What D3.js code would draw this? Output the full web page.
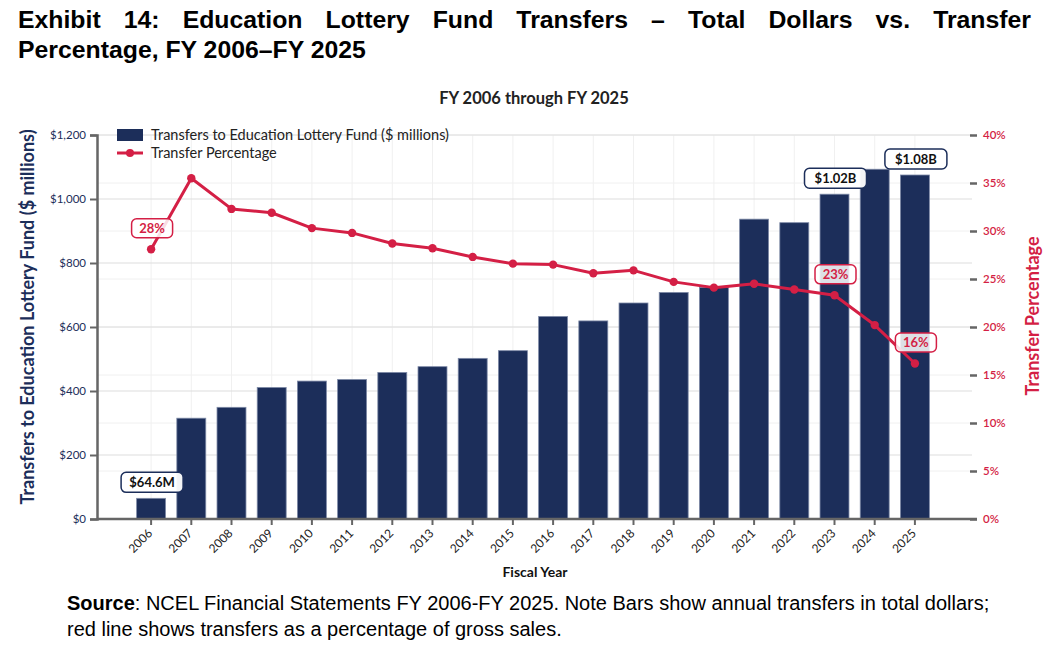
<!DOCTYPE html>
<html>
<head>
<meta charset="utf-8">
<script src="https://cdn.jsdelivr.net/npm/d3@7"></script>
<style>
  body { margin: 0; background: #fff; }
  svg text { font-family: Lato, "Open Sans", sans-serif; }
  svg text.arial { font-family: "Liberation Sans", Arial, sans-serif; }
</style>
</head>
<body>
<svg id="chart" width="1050" height="645"></svg>
<script>
// Data
const years = ["2006", "2007", "2008", "2009", "2010", "2011", "2012", "2013", "2014", "2015",
  "2016", "2017", "2018", "2019", "2020", "2021", "2022", "2023", "2024", "2025"];
const transfers = [64.6, 315, 349, 411, 431, 436, 458, 476, 502, 526,
  633, 619, 675, 708, 724, 937, 926, 1015, 1093, 1075];
const pct = [28.1, 35.5, 32.3, 31.9, 30.3, 29.8, 28.7, 28.2, 27.3, 26.6,
  26.5, 25.6, 25.9, 24.7, 24.1, 24.5, 23.9, 23.3, 20.2, 16.2];
const dollarLabelYears = ["2006", "2023", "2025"];
const dollarLabelText = ["$64.6M", "$1.02B", "$1.08B"];
const pctLabelYears = ["2006", "2023", "2025"];
const pctLabelText = ["28%", "23%", "16%"];
const leftTicks = [0, 200, 400, 600, 800, 1000, 1200];
const rightTicks = [0, 5, 10, 15, 20, 25, 30, 35, 40];

const navy = "#1c2e5a";
const red = "#d41f45";

const svg = d3.select("#chart");

const plot = { left: 97, right: 977, top: 135, bottom: 519 };

const x = d3.scaleBand()
  .domain(years)
  .range([131, 935])
  .paddingInner(0.28)
  .paddingOuter(0.14);
const cx = (yr) => x(yr) + x.bandwidth() / 2;

const yLeft = d3.scaleLinear().domain([0, 1200]).range([plot.bottom, plot.top]);
const yRight = d3.scaleLinear().domain([0, 40]).range([plot.bottom, plot.top]);

// Title, justified first line
const titleLine1 = "Exhibit 14: Education Lottery Fund Transfers – Total Dollars vs. Transfer".split(" ");
const titleLine2 = "Percentage, FY 2006–FY 2025";
const titleLeft = 18, titleRight = 1031;

const t1 = svg.append("g");
const words = t1.selectAll("text")
  .data(titleLine1)
  .join("text")
  .attr("class", "arial")
  .attr("y", 28)
  .attr("font-size", 24.8)
  .attr("font-weight", "bold")
  .attr("fill", "#000")
  .text((d) => d);
const widths = [];
words.each(function () { widths.push(this.getComputedTextLength()); });
const gap = (titleRight - titleLeft - d3.sum(widths)) / (widths.length - 1);
let pos = titleLeft;
words.attr("x", (d, i) => {
  const p = pos;
  pos += widths[i] + gap;
  return p;
});

svg.append("text")
  .attr("class", "arial")
  .attr("x", titleLeft)
  .attr("y", 58)
  .attr("font-size", 24.8)
  .attr("font-weight", "bold")
  .attr("fill", "#000")
  .text(titleLine2);

// Subtitle
svg.append("text")
  .attr("x", 534)
  .attr("y", 104)
  .attr("text-anchor", "middle")
  .attr("font-size", 16.5)
  .attr("font-weight", "bold")
  .attr("fill", "#222")
  .text("FY 2006 through FY 2025");

// Grid: faint right-axis lines, vertical lines, then left-axis lines
svg.append("g")
  .selectAll("line")
  .data(rightTicks)
  .join("line")
  .attr("x1", plot.left)
  .attr("x2", 972)
  .attr("y1", (d) => yRight(d))
  .attr("y2", (d) => yRight(d))
  .attr("stroke", "#f0f0f0")
  .attr("stroke-width", 1);

svg.append("g")
  .selectAll("line")
  .data(years)
  .join("line")
  .attr("x1", (d) => cx(d))
  .attr("x2", (d) => cx(d))
  .attr("y1", plot.top)
  .attr("y2", plot.bottom)
  .attr("stroke", "#f0f0f0")
  .attr("stroke-width", 1);

svg.append("g")
  .selectAll("line")
  .data(leftTicks)
  .join("line")
  .attr("x1", plot.left)
  .attr("x2", 972)
  .attr("y1", (d) => yLeft(d))
  .attr("y2", (d) => yLeft(d))
  .attr("stroke", "#dedede")
  .attr("stroke-width", 1.2);

// Bars
svg.append("g")
  .selectAll("rect")
  .data(years)
  .join("rect")
  .attr("x", (d) => x(d))
  .attr("width", x.bandwidth())
  .attr("y", (d, i) => yLeft(transfers[i]))
  .attr("height", (d, i) => plot.bottom - yLeft(transfers[i]))
  .attr("fill", navy)
  .attr("stroke", "#7d89a6")
  .attr("stroke-width", 0.8);

// Axes
const leftAxis = svg.append("g")
  .attr("transform", `translate(${plot.left},0)`)
  .call(d3.axisLeft(yLeft).tickValues(leftTicks).tickSize(7).tickPadding(4)
    .tickFormat((d) => "$" + d3.format(",")(d)));
leftAxis.select(".domain").attr("stroke", "#666").attr("stroke-width", 2.5);
leftAxis.selectAll(".tick line").attr("stroke", "#666").attr("stroke-width", 2);
leftAxis.selectAll(".tick text")
  .attr("font-family", "Lato, 'Open Sans', sans-serif")
  .attr("font-size", 11.5)
  .attr("fill", navy);

const rightAxis = svg.append("g")
  .attr("transform", "translate(970,0)")
  .call(d3.axisRight(yRight).tickValues(rightTicks).tickSize(7).tickPadding(6)
    .tickFormat((d) => d + "%"));
rightAxis.select(".domain").remove();
rightAxis.selectAll(".tick line").attr("stroke", "#666").attr("stroke-width", 2.5);
rightAxis.selectAll(".tick text")
  .attr("font-family", "Lato, 'Open Sans', sans-serif")
  .attr("font-size", 11.5)
  .attr("font-weight", 600)
  .attr("fill", red);

const bottomAxis = svg.append("g")
  .attr("transform", `translate(0,${plot.bottom})`)
  .call(d3.axisBottom(x).tickSize(6).tickSizeOuter(0));
bottomAxis.select(".domain")
  .attr("d", `M${plot.left},0H${plot.right}`)
  .attr("stroke", "#666")
  .attr("stroke-width", 2.5);
bottomAxis.selectAll(".tick line").attr("stroke", "#666").attr("stroke-width", 2);
bottomAxis.selectAll(".tick text")
  .attr("font-family", "Lato, 'Open Sans', sans-serif")
  .attr("font-size", 12)
  .attr("fill", "#222")
  .attr("text-anchor", "end")
  .attr("x", 0)
  .attr("y", 0)
  .attr("dy", "0.35em")
  .attr("transform", "translate(-1,12) rotate(-45)");

// Axis titles
svg.append("text")
  .attr("transform", "translate(34,317) rotate(-90)")
  .attr("text-anchor", "middle")
  .attr("font-size", 18)
  .attr("font-weight", "bold")
  .attr("fill", navy)
  .text("Transfers to Education Lottery Fund ($ millions)");

svg.append("text")
  .attr("transform", "translate(1039,316) rotate(-90)")
  .attr("text-anchor", "middle")
  .attr("font-size", 18)
  .attr("font-weight", "bold")
  .attr("fill", red)
  .text("Transfer Percentage");

svg.append("text")
  .attr("x", 535)
  .attr("y", 577)
  .attr("text-anchor", "middle")
  .attr("font-size", 14)
  .attr("font-weight", "bold")
  .attr("fill", "#111")
  .text("Fiscal Year");

// Line
const line = d3.line()
  .x((d, i) => cx(years[i]))
  .y((d) => yRight(d));

svg.append("path")
  .datum(pct)
  .attr("fill", "none")
  .attr("stroke", red)
  .attr("stroke-width", 3)
  .attr("stroke-linejoin", "round")
  .attr("d", line);

svg.append("g")
  .selectAll("circle")
  .data(pct)
  .join("circle")
  .attr("cx", (d, i) => cx(years[i]))
  .attr("cy", (d) => yRight(d))
  .attr("r", 4.2)
  .attr("fill", red);

// Labels
function labelBox(g, cxv, cyv, w, h, text, stroke, color, opacity) {
  g.append("rect")
    .attr("x", cxv - w / 2)
    .attr("y", cyv - h / 2)
    .attr("width", w)
    .attr("height", h)
    .attr("rx", 5)
    .attr("fill", "#fff")
    .attr("fill-opacity", opacity)
    .attr("stroke", stroke)
    .attr("stroke-width", 1.5);
  g.append("text")
    .attr("x", cxv)
    .attr("y", cyv)
    .attr("dy", "0.36em")
    .attr("text-anchor", "middle")
    .attr("font-size", 13)
    .attr("font-weight", "bold")
    .attr("fill", color)
    .text(text);
}

const labels = svg.append("g");
dollarLabelYears.forEach((yr, k) => {
  const i = years.indexOf(yr);
  labelBox(labels, cx(yr) + 1, yLeft(transfers[i]) - 16, 62, 20, dollarLabelText[k], navy, "#111", 0.95);
});
pctLabelYears.forEach((yr, k) => {
  const i = years.indexOf(yr);
  labelBox(labels, cx(yr) + 1, yRight(pct[i]) - 21, 41, 19, pctLabelText[k], red, red, 0.85);
});

// Legend
const legend = svg.append("g");
legend.append("rect")
  .attr("x", 117).attr("y", 129).attr("width", 26).attr("height", 12)
  .attr("fill", navy);
legend.append("text")
  .attr("x", 151).attr("y", 135).attr("dy", "0.35em")
  .attr("font-size", 14.5).attr("fill", "#222")
  .text("Transfers to Education Lottery Fund ($ millions)");
legend.append("line")
  .attr("x1", 117).attr("x2", 143).attr("y1", 153).attr("y2", 153)
  .attr("stroke", red).attr("stroke-width", 3);
legend.append("circle")
  .attr("cx", 130).attr("cy", 153).attr("r", 4)
  .attr("fill", red);
legend.append("text")
  .attr("x", 151).attr("y", 153).attr("dy", "0.35em")
  .attr("font-size", 14.5).attr("fill", "#222")
  .text("Transfer Percentage");

// Source note
const note = svg.append("text")
  .attr("class", "arial")
  .attr("x", 67)
  .attr("y", 610)
  .attr("font-size", 20)
  .attr("fill", "#000");
note.append("tspan").attr("font-weight", "bold").text("Source");
note.append("tspan").text(": NCEL Financial Statements FY 2006-FY 2025. Note Bars show annual transfers in total dollars;");
svg.append("text")
  .attr("class", "arial")
  .attr("x", 67)
  .attr("y", 636)
  .attr("font-size", 20)
  .attr("fill", "#000")
  .text("red line shows transfers as a percentage of gross sales.");
</script>
</body>
</html>
